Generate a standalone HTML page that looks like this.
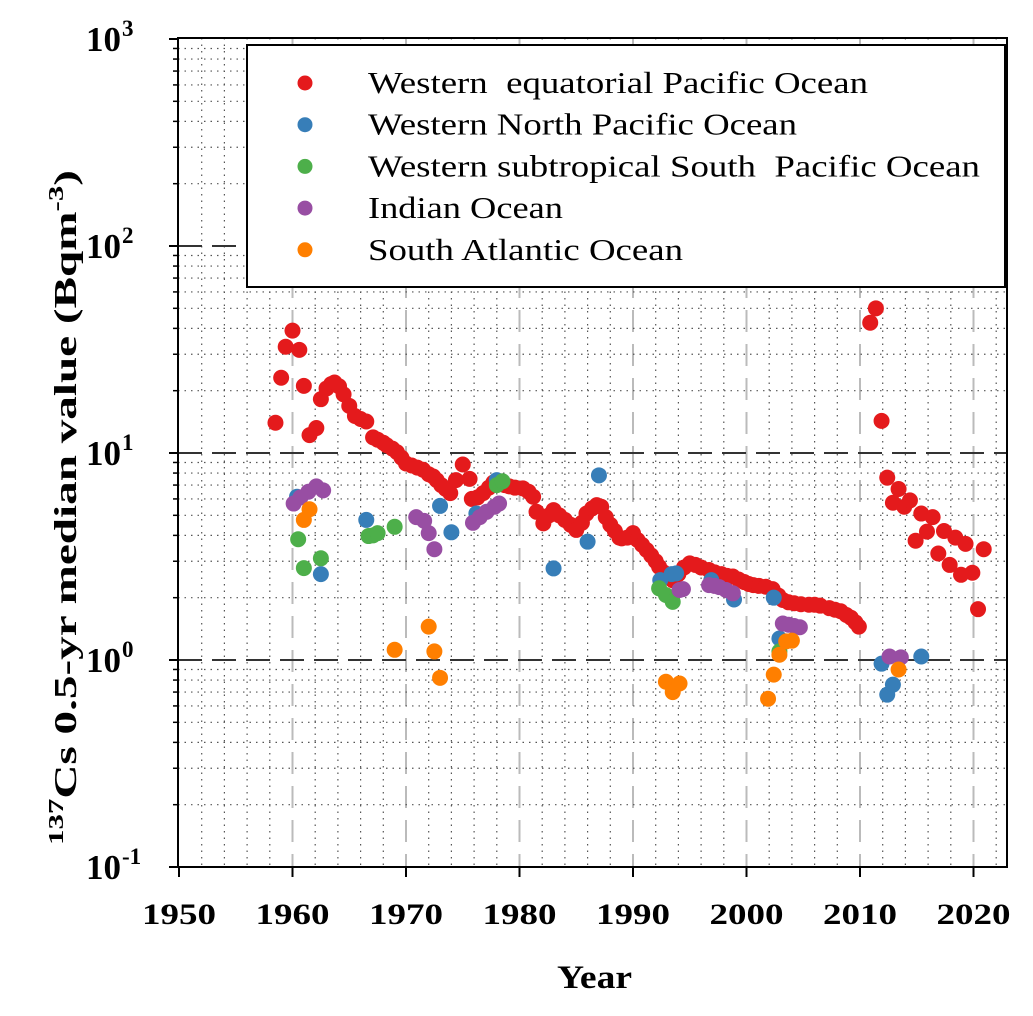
<!DOCTYPE html>
<html><head><meta charset="utf-8"><style>
body{margin:0;background:#fff}
svg{display:block;font-family:"Liberation Serif",serif}
text{white-space:pre}
</style></head><body>
<svg id="chart" width="1033" height="1016" viewBox="0 0 1033 1016"></svg>
<script>
const xTicks=[1950,1960,1970,1980,1990,2000,2010,2020];
const yDecades=[-1,0,1,2,3];
const redX=[1958.5,1959.0,1959.4,1960.0,1960.6,1961.0,1961.5,1962.1,1962.5,1963.0,1963.4,1963.7,1964.1,1964.5,1965.0,1965.5,1966.0,1966.5,1967.1,1967.5,1968.0,1968.3,1968.8,1969.2,1969.6,1970.0,1970.5,1971.0,1971.5,1972.0,1972.4,1972.7,1973.1,1973.5,1973.9,1974.4,1975.0,1975.6,1975.8,1976.3,1976.8,1977.3,1977.7,1978.2,1978.7,1979.1,1979.6,1980.3,1980.8,1981.2,1981.5,1982.1,1982.6,1983.0,1983.5,1984.0,1984.5,1985.0,1985.5,1985.9,1986.4,1986.8,1987.2,1987.6,1988.0,1988.4,1988.8,1989.0,1989.5,1990.0,1990.4,1990.8,1991.2,1991.6,1992.0,1992.3,1992.7,1993.1,1993.5,1994.0,1994.5,1995.0,1995.5,1996.0,1996.7,1997.2,1997.8,1998.3,1998.8,1999.3,1999.8,2000.2,2000.6,2001.1,2001.7,2002.3,2002.8,2003.2,2003.7,2004.2,2004.8,2005.5,2006.0,2006.5,2007.3,2007.8,2008.3,2008.8,2009.2,2009.6,2009.9,2010.9,2011.4,2011.9,2012.4,2012.9,2013.4,2013.9,2014.4,2014.9,2015.4,2015.9,2016.4,2016.9,2017.4,2017.9,2018.4,2018.9,2019.3,2019.9,2020.4,2020.9];
const redY=[14.0,23.1,32.6,39,31.5,21.1,12.2,13.2,18.2,20.5,21.5,21.9,21.0,19.2,16.9,15.1,14.6,14.2,11.9,11.6,11.2,10.9,10.5,10.1,9.5,8.9,8.7,8.5,8.3,7.9,7.7,7.4,7.0,6.7,6.4,7.4,8.8,7.5,6.0,6.1,6.4,6.8,7.2,7.1,7.0,6.9,6.8,6.75,6.5,6.15,5.2,4.57,5.0,5.3,5.0,4.75,4.5,4.25,4.6,5.1,5.4,5.6,5.5,4.9,4.5,4.2,3.9,3.87,3.9,4.1,3.8,3.6,3.4,3.2,3.0,2.82,2.65,2.55,2.43,2.6,2.8,2.93,2.88,2.8,2.72,2.65,2.6,2.55,2.53,2.45,2.38,2.33,2.3,2.28,2.26,2.2,2.05,1.95,1.9,1.88,1.86,1.85,1.85,1.83,1.78,1.75,1.72,1.65,1.6,1.52,1.45,42.6,50,14.3,7.6,5.75,6.7,5.5,5.9,3.77,5.1,4.17,4.9,3.27,4.2,2.88,3.9,2.58,3.64,2.64,1.76,3.43];
const blueX=[1960.4,1962.5,1966.5,1973.0,1974.0,1976.2,1978.0,1983.0,1986.0,1987.0,1992.4,1993.4,1993.8,1996.9,1998.9,2002.4,2002.9,2011.9,2012.4,2012.9,2015.4];
const blueY=[6.15,2.6,4.75,5.55,4.14,5.1,7.4,2.77,3.73,7.8,2.43,2.6,2.62,2.43,1.96,2.0,1.27,0.96,0.68,0.76,1.04];
const greenX=[1960.5,1961.0,1962.5,1966.7,1967.1,1967.5,1969.0,1978.0,1978.5,1992.3,1992.9,1993.5,2002.9];
const greenY=[3.83,2.78,3.1,3.97,4.0,4.1,4.4,7.0,7.3,2.22,2.06,1.91,1.1];
const purpleX=[1960.1,1960.7,1961.4,1962.1,1962.7,1970.9,1971.6,1972.0,1972.5,1975.9,1976.5,1977.1,1977.8,1978.2,1994.1,1994.4,1996.7,1997.2,1997.6,1998.2,1998.8,2003.2,2003.7,2004.2,2004.7,2012.6,2013.6];
const purpleY=[5.7,6.1,6.5,6.9,6.6,4.9,4.7,4.1,3.43,4.6,4.9,5.2,5.5,5.7,2.18,2.2,2.3,2.28,2.25,2.18,2.1,1.5,1.48,1.46,1.44,1.04,1.03];
const orangeX=[1961.0,1961.5,1969.0,1972.0,1972.5,1973.0,1992.9,1993.5,1994.1,2001.9,2002.4,2002.9,2003.5,2004.0,2013.4];
const orangeY=[4.75,5.35,1.12,1.45,1.1,0.82,0.785,0.70,0.77,0.65,0.85,1.06,1.23,1.24,0.9];
const legendLabels=["Western  equatorial Pacific Ocean","Western North Pacific Ocean","Western subtropical South  Pacific Ocean","Indian Ocean","South Atlantic Ocean"];
const legendWidths=[500,429,612,195,315];

const L=178,R=1007,T=38,B=867;
const X=y=>179+(y-1950)*113.5/10;
const Y=v=>660-Math.log10(v)*207;
const YL=l=>660-l*207;
const NS="http://www.w3.org/2000/svg";
const svg=document.getElementById('chart');
function mk(tag,attrs,parent){const e=document.createElementNS(NS,tag);for(const k in attrs)e.setAttribute(k,attrs[k]);(parent||svg).appendChild(e);return e;}

const grid=mk('g',{});


for(let yr=1952;yr<2023;yr+=2){
  if(yr%10===0)continue;
  mk('line',{x1:X(yr),x2:X(yr),y1:T,y2:B,stroke:'#555','stroke-width':1.2,'stroke-dasharray':'1.5 5'},grid);
}
xTicks.slice(1).forEach(yr=>mk('line',{x1:X(yr),x2:X(yr),y1:T,y2:B,stroke:'#bbb','stroke-width':2,'stroke-dasharray':'22 12'},grid));
for(let d=-1;d<3;d++){for(let m=2;m<10;m++){const yy=YL(d+Math.log10(m));mk('line',{x1:L,x2:R,y1:yy,y2:yy,stroke:'#555','stroke-width':1.2,'stroke-dasharray':'1.5 5'},grid);}}
[0,1,2].forEach(d=>mk('line',{x1:L,x2:R,y1:YL(d),y2:YL(d),stroke:'#333','stroke-width':2,'stroke-dasharray':'24 10'},grid));

const frame=mk('rect',{x:L,y:T,width:R-L,height:B-T,fill:'none',stroke:'#000','stroke-width':2});



const xa=mk('g',{});


xTicks.forEach(yr=>{
  mk('line',{x1:X(yr),x2:X(yr),y1:B,y2:B+10,stroke:'#000','stroke-width':2},xa);
  const t=mk('text',{x:X(yr)-37,y:924,'font-size':30,'font-weight':'bold',textLength:74,lengthAdjust:'spacingAndGlyphs'},xa);
  t.textContent=yr;
  
  
});
const ya=mk('g',{});


yDecades.forEach(d=>{
  mk('line',{x1:L-9,x2:L,y1:YL(d),y2:YL(d),stroke:'#000','stroke-width':2},ya);
  const t=mk('text',{x:L-57,y:YL(d)+12,'text-anchor':'end','font-size':35,'font-weight':'bold'},ya);
  t.textContent='10';
  
  
  const s=mk('text',{x:L-56,y:YL(d)-3,'font-size':23,'font-weight':'bold'},ya);
  s.textContent=String(d);
  if(d<3)for(let m=2;m<10;m++){const yy=YL(d+Math.log10(m));mk('line',{x1:L-5,x2:L,y1:yy,y2:yy,stroke:'#000','stroke-width':1.5},ya);}
});

const series=[[redX,redY,'#e41a1c','red-series'],[blueX,blueY,'#377eb8','blue-series'],[greenX,greenY,'#4daf4a','green-series'],[purpleX,purpleY,'#984ea3','purple-series'],[orangeX,orangeY,'#ff7f00','orange-series']];
series.forEach(([xs,ys,c,n])=>{
  const g=mk('g',{fill:c});
  
  
  xs.forEach((x,i)=>{const p=mk('circle',{cx:X(x),cy:Y(ys[i]),r:8},g);
    
    });
});

const lg=mk('g',{});


mk('rect',{x:247,y:45,width:758,height:242,fill:'#fff',stroke:'#000','stroke-width':2},lg);
const lc=['#e41a1c','#377eb8','#4daf4a','#984ea3','#ff7f00'];
legendLabels.forEach((s,i)=>{
  const yy=83+i*41.7;
  const e=mk('g',{},lg);
  
  
  mk('circle',{cx:305,cy:yy,r:7.5,fill:lc[i]},e);
  const t=mk('text',{x:368,y:yy+10,'font-size':31,textLength:legendWidths[i],lengthAdjust:'spacingAndGlyphs'},e);t.textContent=s;
});

const xt=mk('text',{x:557,y:988,'font-size':33,'font-weight':'bold',textLength:75,lengthAdjust:'spacingAndGlyphs'});
xt.textContent='Year';


const yt=mk('text',{transform:'translate(76,845) rotate(-90)','font-size':32,'font-weight':'bold',textLength:675,lengthAdjust:'spacingAndGlyphs'});


const s1=mk('tspan',{dy:-13,'font-size':21},yt);s1.textContent='137';
const s2=mk('tspan',{dy:13},yt);s2.textContent='Cs 0.5-yr median value (Bqm';
const s3=mk('tspan',{dy:-13,'font-size':21},yt);s3.textContent='-3';
const s4=mk('tspan',{dy:13},yt);s4.textContent=')';
</script>
</body></html>
